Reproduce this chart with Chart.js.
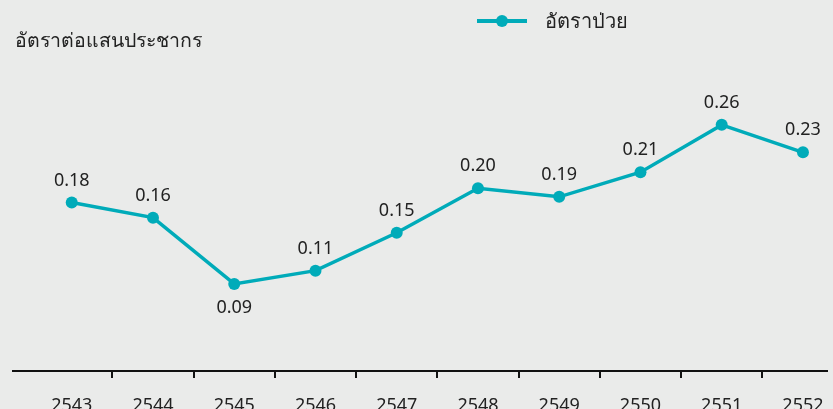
<!DOCTYPE html>
<html>
<head>
<meta charset="utf-8">
<script src="https://cdn.jsdelivr.net/npm/chart.js@4"></script>
<style>
  html, body { margin: 0; padding: 0; background: #eaebea; overflow: hidden; }
  #wrap { position: relative; width: 833px; height: 409px; }
  #yTitle { position: absolute; left: 15px; top: 25px; font: 19.5px "Noto Sans", sans-serif; color: #222; }
  #legend { position: absolute; left: 477px; top: 8px; height: 26px; display: flex; align-items: center;
            font: 20px "Noto Sans", sans-serif; color: #222; }
  #legend .sym { position: relative; width: 50px; height: 4px; background: #00abb9; margin-right: 18px; }
  #legend .sym::after { content: ""; position: absolute; left: 19px; top: -4px; width: 12px; height: 12px;
            border-radius: 50%; background: #00abb9; }
</style>
</head>
<body>
<div id="wrap">
  <canvas id="rateChart" width="833" height="409"></canvas>
  <div id="yTitle">อัตราต่อแสนประชากร</div>
  <div id="legend"><span class="sym"></span>อัตราป่วย</div>
</div>
<script>
// years (Buddhist era) shown along the bottom
const years = ["2543", "2544", "2545", "2546", "2547", "2548", "2549", "2550", "2551", "2552"];
// rate per 100,000 population
const rates = [0.178, 0.162, 0.092, 0.106, 0.146, 0.193, 0.184, 0.210, 0.260, 0.231];
// values as printed next to each point
const rateLabels = ["0.18", "0.16", "0.09", "0.11", "0.15", "0.20", "0.19", "0.21", "0.26", "0.23"];

const teal = "#00abb9";

// small tick marks between the years, below the axis line
const betweenTicks = {
  id: "betweenTicks",
  afterDraw(chart) {
    const ctx = chart.ctx;
    const xs = chart.scales.x;
    const y0 = chart.chartArea.bottom;
    ctx.save();
    ctx.strokeStyle = "#111";
    ctx.lineWidth = 2;
    for (let i = 0; i < years.length - 1; i++) {
      const x = Math.round(xs.getPixelForValue(i + 0.5));
      ctx.beginPath();
      ctx.moveTo(x, y0);
      ctx.lineTo(x, y0 + 7);
      ctx.stroke();
    }
    ctx.restore();
  },
};

// value text above each point (below for the lowest one)
const pointLabels = {
  id: "pointLabels",
  afterDatasetsDraw(chart) {
    const ctx = chart.ctx;
    const meta = chart.getDatasetMeta(0);
    ctx.save();
    ctx.font = '18px "Noto Sans", sans-serif';
    ctx.fillStyle = "#222";
    ctx.textAlign = "center";
    ctx.textBaseline = "middle";
    meta.data.forEach((pt, i) => {
      const below = i === 2;
      ctx.fillText(rateLabels[i], pt.x, below ? pt.y + 24 : pt.y - 22);
    });
    ctx.restore();
  },
};

new Chart(document.getElementById("rateChart"), {
  type: "line",
  data: {
    datasets: [
      {
        label: "อัตราป่วย",
        data: rates.map((v, i) => ({ x: i, y: v })),
        borderColor: teal,
        backgroundColor: teal,
        borderWidth: 3.5,
        pointRadius: 6,
        pointHoverRadius: 6,
        pointBackgroundColor: teal,
        pointBorderWidth: 0,
        tension: 0,
      },
    ],
  },
  options: {
    responsive: false,
    animation: false,
    layout: { padding: { left: 13, right: 6, top: 87, bottom: 0 } },
    plugins: { legend: { display: false }, tooltip: { enabled: false } },
    scales: {
      x: {
        type: "linear",
        min: -0.723,
        max: 9.296,
        afterBuildTicks(scale) {
          scale.ticks = years.map((y, i) => ({ value: i }));
        },
        afterFit(scale) {
          scale.height = 38;
          scale.paddingLeft = 0;
          scale.paddingRight = 0;
        },
        grid: { display: false, drawTicks: false },
        border: { display: true, color: "#111", width: 2 },
        ticks: {
          padding: 24,
          autoSkip: false,
          maxRotation: 0,
          color: "#222",
          font: { family: "Noto Sans", size: 18 },
          callback: (v) => years[v],
        },
      },
      y: {
        display: false,
        min: 0,
        max: 0.3,
      },
    },
  },
  plugins: [betweenTicks, pointLabels],
});
</script>
</body>
</html>
